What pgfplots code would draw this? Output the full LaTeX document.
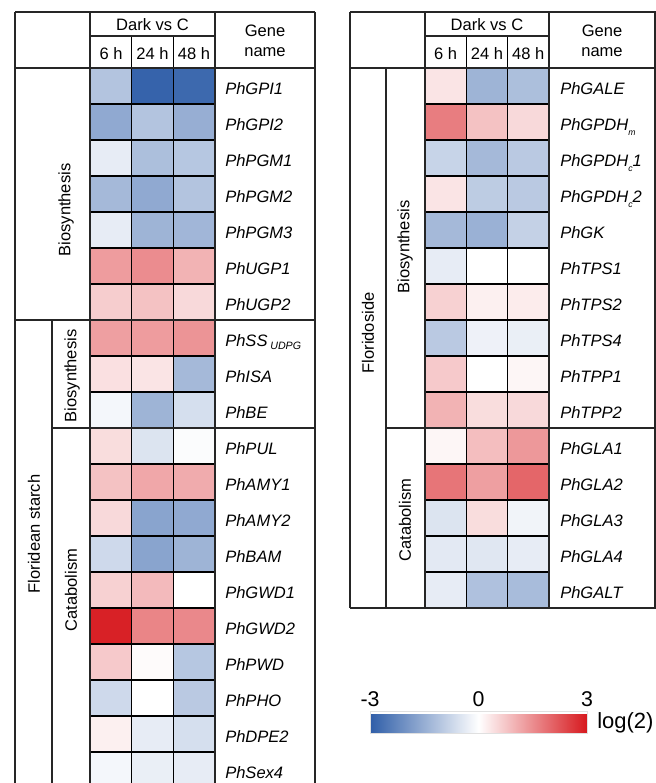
\documentclass[border=0pt]{standalone}
\usepackage{fontspec}
\setmainfont{Liberation Sans}
\usepackage{pgfplots}
\usepackage{pgfplotstable}
\pgfplotsset{compat=1.18}
\pgfplotsset{colormap={bwr}{rgb255=(47,94,168) rgb255=(255,255,255) rgb255=(215,25,30)}}

\pgfplotstableread{
x y v
0 0 -1.1
1 0 -2.9
2 0 -2.8
0 1 -1.6
1 1 -1.1
2 1 -1.5
0 2 -0.35
1 2 -1.2
2 2 -1.05
0 3 -1.3
1 3 -1.6
2 3 -1.1
0 4 -0.35
1 4 -1.4
2 4 -1.35
0 5 1.3
1 5 1.5
2 5 1.0
0 6 0.65
1 6 0.8
2 6 0.5
0 7 1.25
1 7 1.3
2 7 1.4
0 8 0.4
1 8 0.35
2 8 -1.3
0 9 -0.15
1 9 -1.4
2 9 -0.6
0 10 0.45
1 10 -0.5
2 10 -0.05
0 11 0.8
1 11 1.15
2 11 1.1
0 12 0.5
1 12 -1.7
2 12 -1.6
0 13 -0.7
1 13 -1.7
2 13 -1.4
0 14 0.6
1 14 0.9
2 14 0.0
0 15 2.9
1 15 1.6
2 15 1.55
0 16 0.7
1 16 0.05
2 16 -1.05
0 17 -0.7
1 17 0.0
2 17 -1.0
0 18 0.2
1 18 -0.35
2 18 -0.6
0 19 -0.15
1 19 -0.3
2 19 -0.35
}\lefttab

\pgfplotstableread{
x y v
0 0 0.35
1 0 -1.4
2 0 -1.2
0 1 1.7
1 1 0.8
2 1 0.5
0 2 -0.8
1 2 -1.3
2 2 -1.0
0 3 0.35
1 3 -0.95
2 3 -1.0
0 4 -1.3
1 4 -1.45
2 4 -0.85
0 5 -0.35
1 5 0.0
2 5 0.0
0 6 0.6
1 6 0.2
2 6 0.25
0 7 -1.0
1 7 -0.25
2 7 -0.3
0 8 0.7
1 8 0.0
2 8 0.12
0 9 1.0
1 9 0.45
2 9 0.5
0 10 0.12
1 10 0.85
2 10 1.35
0 11 1.8
1 11 1.25
2 11 2.0
0 12 -0.5
1 12 0.45
2 12 -0.2
0 13 -0.4
1 13 -0.45
2 13 -0.35
0 14 -0.35
1 14 -1.15
2 14 -1.25
}\righttab

\newcommand{\sub}[1]{\raisebox{-0.6ex}{\fontsize{6.5}{7}\selectfont #1}}
\newcommand{\subb}[1]{\raisebox{-0.45ex}{\fontsize{8}{9}\selectfont #1}}

\begin{document}
\begin{tikzpicture}
\useasboundingbox (0pt,0pt) rectangle (492pt,-587.25pt);

% ---------- left heatmap ----------
\begin{axis}[at={(67.5pt,-51pt)}, anchor=north west, scale only axis,
  width=93.75pt, height=540pt, xmin=-0.5, xmax=2.5, ymin=-0.5, ymax=19.5,
  y dir=reverse, hide axis, colormap name=bwr, point meta min=-3, point meta max=3]
\addplot[matrix plot*, mesh/cols=3, point meta=explicit] table[meta=v] {\lefttab};
\end{axis}

% ---------- right heatmap ----------
\begin{axis}[at={(318.75pt,-51pt)}, anchor=north west, scale only axis,
  width=93pt, height=405pt, xmin=-0.5, xmax=2.5, ymin=-0.5, ymax=14.5,
  y dir=reverse, hide axis, colormap name=bwr, point meta min=-3, point meta max=3]
\addplot[matrix plot*, mesh/cols=3, point meta=explicit] table[meta=v] {\righttab};
\end{axis}

% ---------- colorbar ----------
\begin{axis}[at={(277.5pt,-541.5pt)}, anchor=south west, scale only axis,
  width=162.75pt, height=16.5pt, hide axis, xmin=0, xmax=1, ymin=0, ymax=1,
  colormap name=bwr, point meta min=-3, point meta max=3,
  colorbar horizontal,
  colorbar style={at={(parent axis.south west)}, anchor=south west,
    scale only axis, width=162.75pt, height=16.5pt,
    xtick={-3,0,3}, xticklabels={-3,0,3}, xticklabel pos=upper,
    major tick length=0pt,
    xticklabel style={font=\fontsize{16}{18}\selectfont, inner sep=3pt},
    axis line style={draw=black!12}}]
\addplot[draw=none, forget plot] coordinates {(0.5,0.5)};
\end{axis}

\begin{scope}[x=0.75pt,y=-0.75pt,
  tl/.style={line width=1.15pt, black!85},
  cl/.style={line width=1.0pt, black},
  txt/.style={font=\fontsize{12.4}{14}\selectfont, inner sep=0pt},
  gn/.style={font=\fontsize{12.4}{14}\selectfont\itshape, inner sep=0pt, anchor=base west}]
\node[font=\fontsize{16.5}{18}\selectfont, anchor=west, inner sep=0pt] at (597,723) {log(2)};

% ---------- left table lines ----------
\foreach \k in {1,...,19} \draw[cl] (90,{68+36*\k}) -- (215,{68+36*\k});
\draw[cl] (131.67,36) -- (131.67,790);
\draw[cl] (173.33,36) -- (173.33,790);
\draw[tl] (15,12) -- (315,12);
\draw[tl] (15,68) -- (315,68);
\draw[tl] (90,36) -- (215,36);
\draw[tl] (15,12) -- (15,790);
\draw[tl] (90,12) -- (90,790);
\draw[tl] (215,12) -- (215,790);
\draw[tl] (315,12) -- (315,790);
\draw[tl] (15,320) -- (315,320);
\draw[tl] (52,320) -- (52,790);
\draw[tl] (52,428) -- (315,428);

% ---------- right table lines ----------
\foreach \k in {1,...,14} \draw[cl] (425,{68+36*\k}) -- (549,{68+36*\k});
\draw[cl] (466.33,36) -- (466.33,608);
\draw[cl] (507.67,36) -- (507.67,608);
\draw[tl] (350,12) -- (656,12);
\draw[tl] (350,68) -- (656,68);
\draw[tl] (350,608) -- (656,608);
\draw[tl] (425,36) -- (549,36);
\draw[tl] (350,12) -- (350,608);
\draw[tl] (386,68) -- (386,608);
\draw[tl] (425,12) -- (425,608);
\draw[tl] (549,12) -- (549,608);
\draw[tl] (655,12) -- (655,608);
\draw[tl] (386,428) -- (656,428);

% ---------- headers ----------
\node[txt] at (152.5,25) {Dark vs C};
\node[txt] at (111,54) {6 h};
\node[txt] at (152.5,54) {24 h};
\node[txt] at (194,54) {48 h};
\node[txt] at (265,31) {Gene};
\node[txt] at (265,52) {name};
\node[txt] at (487,25) {Dark vs C};
\node[txt] at (445.7,54) {6 h};
\node[txt] at (487,54) {24 h};
\node[txt] at (528.3,54) {48 h};
\node[txt] at (602,31) {Gene};
\node[txt] at (602,52) {name};

% ---------- group labels ----------
\node[txt, rotate=90] at (66,210) {Biosynthesis};
\node[txt, rotate=90] at (34,534) {Floridean starch};
\node[txt, rotate=90] at (72,376) {Biosynthesis};
\node[txt, rotate=90] at (71,590) {Catabolism};
\node[txt, rotate=90] at (368,333) {Floridoside};
\node[txt, rotate=90] at (405,247) {Biosynthesis};
\node[txt, rotate=90] at (405,520) {Catabolism};

% ---------- gene names ----------
\foreach \g [count=\i from 0] in {PhGPI1,PhGPI2,PhPGM1,PhPGM2,PhPGM3,PhUGP1,PhUGP2,{PhSS\,\subb{UDPG}},PhISA,PhBE,PhPUL,PhAMY1,PhAMY2,PhBAM,PhGWD1,PhGWD2,PhPWD,PhPHO,PhDPE2,PhSex4}
  \node[gn] at (225,{86+36*\i+8}) {\g};
\foreach \g [count=\i from 0] in {PhGALE,{PhGPDH\sub{m}},{PhGPDH\sub{c}1},{PhGPDH\sub{c}2},PhGK,PhTPS1,PhTPS2,PhTPS4,PhTPP1,PhTPP2,PhGLA1,PhGLA2,PhGLA3,PhGLA4,PhGALT}
  \node[gn] at (560,{86+36*\i+8}) {\g};
\end{scope}
\end{tikzpicture}
\end{document}
